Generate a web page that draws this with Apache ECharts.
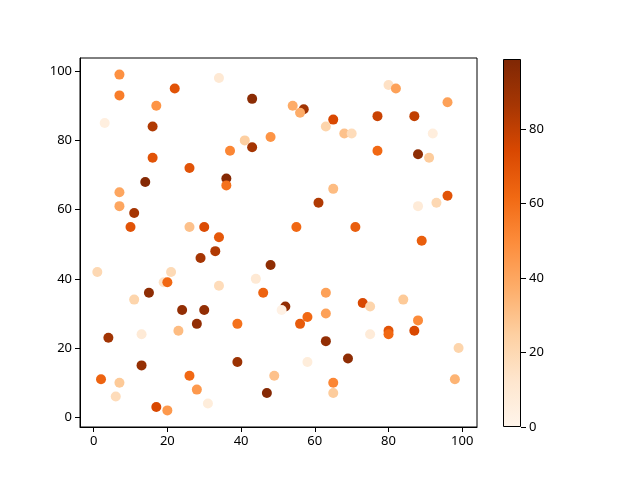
<!DOCTYPE html>
<html>
<head>
    <meta charset="utf-8">
    <title>Scatter with colorbar</title>
    <script src="https://cdn.jsdelivr.net/npm/echarts@6/dist/echarts.min.js"></script>
</head>
<body style="margin:0">
<div id="main" style="width: 640px;height:480px"></div>
<script type="text/javascript">
    // point data
    var xs = [7, 34, 22, 7, 43, 17, 3, 16, 48, 41, 43, 37, 16, 26, 14, 36, 36, 7, 7, 11, 10, 26, 30, 34,
              80, 82, 96, 54, 57, 56, 65, 77, 87, 63, 68, 70, 92, 77, 88, 91, 65, 96, 61, 93, 88, 55, 71, 89,
              29, 33, 48, 1, 21, 19, 20, 44, 34, 46, 15, 11, 24, 30, 28, 39, 23, 4, 13, 13, 39, 49, 2, 7, 26, 28, 6, 47, 31, 17, 20,
              63, 52, 51, 73, 75, 84, 63, 58, 56, 88, 80, 80, 87, 75, 63, 69, 58, 99, 98, 65, 65];
    var ys = [99, 98, 95, 93, 92, 90, 85, 84, 81, 80, 78, 77, 75, 72, 68, 69, 67, 65, 61, 59, 55, 55, 55, 52,
              96, 95, 91, 90, 89, 88, 86, 87, 87, 84, 82, 82, 82, 77, 76, 75, 66, 64, 62, 62, 61, 55, 55, 51,
              46, 48, 44, 42, 42, 39, 39, 40, 38, 36, 36, 34, 31, 31, 27, 27, 25, 23, 24, 15, 16, 12, 11, 10, 12, 8, 6, 7, 4, 3, 2,
              36, 32, 31, 33, 32, 34, 30, 29, 27, 28, 25, 24, 25, 24, 22, 17, 16, 20, 11, 10, 7];
    var vals = [48, 10, 70, 55, 95, 47, 5, 84, 47, 25, 87, 52, 70, 70, 97, 97, 59, 40, 40, 87, 70, 30, 73, 68,
                15, 42, 42, 38, 88, 38, 74, 78, 80, 22, 30, 18, 6, 62, 94, 26, 32, 70, 84, 20, 8, 62, 66, 66,
                87, 84, 94, 20, 19, 14, 62, 10, 18, 64, 94, 22, 93, 93, 93, 59, 32, 88, 9, 92, 90, 30, 64, 27, 62, 45, 18, 97, 7, 74, 45,
                42, 93, 3, 74, 22, 27, 42, 62, 67, 50, 70, 62, 74, 8, 93, 94, 7, 22, 35, 52, 26];
    var xTicks = [0, 20, 40, 60, 80, 100];
    var yTicks = [0, 20, 40, 60, 80, 100];
    var cbTicks = [0, 20, 40, 60, 80];
    var cmin = 0, cmax = 98.9;
    // matplotlib Oranges
    var oranges = ['#fff5eb', '#fee6ce', '#fdd0a2', '#fdae6b', '#fd8d3c', '#f16913', '#d94801', '#a63603', '#7f2704'];

    var points = xs.map(function (x, i) { return [x, ys[i], vals[i]]; });
    var stops = oranges.map(function (c, i) { return {offset: i / (oranges.length - 1), color: c}; });

    var font = {fontFamily: 'Noto Sans', fontSize: 13, color: '#000'};
    var tick = {show: true, length: 5, lineStyle: {color: '#000', width: 1}};
    var line = {show: true, onZero: false, lineStyle: {color: '#000', width: 1}};

    var myChart = echarts.init(document.getElementById('main'));
    var option = {
        animation: false,
        grid: [
            {left: 80, top: 58, width: 397, height: 369, show: true, borderColor: '#000', borderWidth: 1},
            {left: 503, top: 59, width: 18, height: 368}
        ],
        xAxis: [
            {
                gridIndex: 0, type: 'value', min: -3.7, max: 104,
                axisLine: line, splitLine: {show: false},
                axisTick: Object.assign({customValues: xTicks}, tick),
                axisLabel: Object.assign({customValues: xTicks, margin: 8}, font)
            },
            {
                gridIndex: 1, type: 'category', data: [''],
                axisLine: {show: false}, axisTick: {show: false}, axisLabel: {show: false}
            }
        ],
        yAxis: [
            {
                gridIndex: 0, type: 'value', min: -2.8, max: 103.8,
                axisLine: line, splitLine: {show: false},
                axisTick: Object.assign({customValues: yTicks}, tick),
                axisLabel: Object.assign({customValues: yTicks, margin: 8}, font)
            },
            {
                gridIndex: 1, type: 'value', min: cmin, max: cmax, position: 'right',
                axisLine: {show: false}, splitLine: {show: false},
                axisTick: Object.assign({customValues: cbTicks}, tick),
                axisLabel: Object.assign({customValues: cbTicks, margin: 8}, font)
            }
        ],
        visualMap: {
            show: false, type: 'continuous', min: cmin, max: cmax,
            dimension: 2, seriesIndex: 0,
            inRange: {color: oranges}
        },
        series: [
            {
                type: 'scatter', xAxisIndex: 0, yAxisIndex: 0,
                symbolSize: 10, data: points,
                itemStyle: {opacity: 1}
            },
            {
                type: 'bar', xAxisIndex: 1, yAxisIndex: 1,
                barWidth: '100%', data: [cmax], silent: true,
                itemStyle: {
                    color: {type: 'linear', x: 0, y: 1, x2: 0, y2: 0, colorStops: stops},
                    borderColor: '#000', borderWidth: 1
                }
            }
        ]
    };
    myChart.setOption(option);
</script>
</body>
</html>
